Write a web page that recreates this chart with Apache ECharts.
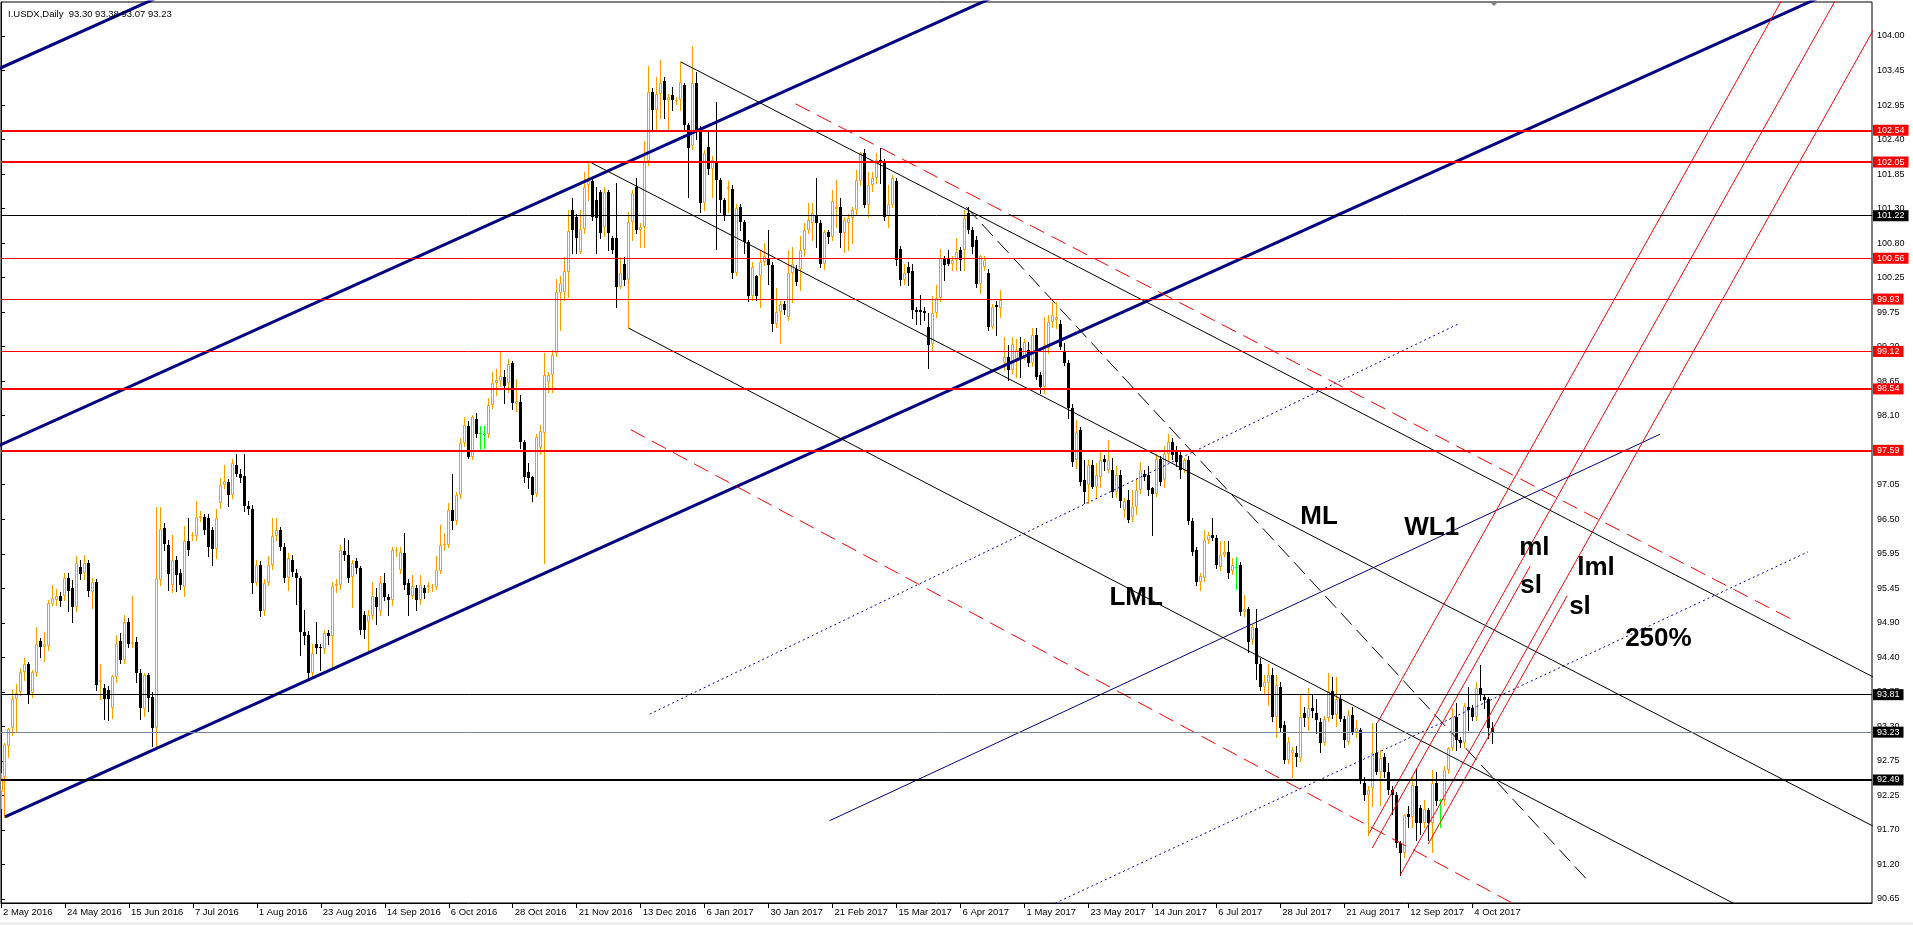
<!DOCTYPE html>
<html>
<head>
<meta charset="utf-8">
<script src="https://cdn.jsdelivr.net/npm/echarts@6/dist/echarts.min.js"></script>
<style>html,body{margin:0;padding:0;background:#fff;}#chart{width:1913px;height:925px;}</style>
</head>
<body>
<div id="chart"></div>
<script>
// ---------- DATA ----------
const symbolTitle = 'I.USDX,Daily';

const open = [
92.30,92.54,93.02,93.29,93.74,93.85,94.16,94.29,93.83,94.15,
94.64,94.55,94.56,95.21,95.27,95.33,95.33,95.61,95.46,95.17,
95.78,95.69,95.84,95.40,95.56,94.00,93.91,93.88,93.61,94.08,
94.64,94.35,94.94,94.60,94.62,94.14,93.59,94.12,93.78,93.29,
95.58,96.39,96.13,95.51,95.89,95.69,95.48,96.19,96.26,96.26,
96.54,96.56,96.54,96.36,96.07,96.77,97.05,97.10,96.90,97.36,
97.23,97.19,96.73,96.69,95.54,95.82,95.10,95.54,95.81,96.26,
96.36,96.10,95.61,95.90,95.70,95.61,94.78,94.73,94.15,94.60,
94.55,94.51,94.76,94.72,95.49,95.51,96.03,95.97,95.63,95.88,
95.77,95.04,94.94,95.03,95.32,95.11,95.53,95.32,95.28,96.04,
95.74,96.00,95.53,95.34,95.46,95.28,95.46,95.47,95.47,95.48,
95.73,96.12,96.13,96.67,96.50,96.90,97.71,97.97,97.49,98.07,
97.86,97.85,97.85,98.29,98.63,98.66,98.72,98.63,98.94,98.31,
98.34,97.72,97.25,97.18,96.92,97.62,97.86,98.65,98.76,99.10,
100.02,100.04,100.35,101.31,101.20,100.66,101.01,101.69,101.75,101.46,
101.58,101.05,101.58,100.87,100.87,100.12,100.48,100.22,101.13,101.67,
101.00,101.04,102.06,103.14,102.86,103.11,103.30,103.01,103.09,102.99,
103.01,103.24,102.62,102.30,103.27,102.55,101.41,102.29,101.95,102.03,
101.77,101.46,101.63,101.63,100.33,101.36,101.13,100.82,99.97,100.28,
100.28,100.51,100.56,100.46,99.55,99.73,99.86,99.66,100.33,100.40,
100.40,100.69,101.00,101.10,101.23,101.10,100.48,100.97,100.89,101.33,
101.36,100.95,101.10,101.18,101.31,101.75,102.19,101.39,101.69,101.80,
102.08,102.06,101.22,101.39,101.75,100.71,100.22,100.43,100.36,99.76,
99.76,99.74,99.50,99.24,99.71,99.94,100.56,100.56,100.48,100.53,
100.69,100.69,101.26,101.00,100.84,100.17,100.43,100.33,99.50,99.84,
99.79,98.94,99.04,98.83,99.00,99.17,99.04,99.14,98.94,99.37,
98.76,98.57,99.17,99.58,99.60,99.55,99.12,98.94,98.24,97.44,
97.90,97.13,97.05,97.36,97.03,97.18,97.46,97.29,97.28,96.95,
97.21,96.67,96.82,96.56,96.72,96.98,97.23,97.21,97.00,96.92,
97.46,97.13,97.54,97.72,97.59,97.52,97.29,97.44,96.49,96.05,
95.56,95.61,96.20,96.28,96.23,95.79,95.97,96.02,95.72,95.79,
95.82,95.09,95.14,94.66,94.84,94.29,93.93,93.99,94.11,93.47,
93.93,93.34,92.80,92.90,92.90,92.83,93.52,93.45,93.60,93.53,
93.39,93.06,93.45,93.86,93.50,93.75,93.44,93.08,93.49,93.24,
93.27,92.44,92.26,92.36,92.90,92.62,92.85,92.62,92.34,92.26,
91.52,91.36,91.96,91.92,92.40,92.05,91.82,92.02,91.82,92.44,
92.18,92.18,92.64,92.98,93.47,93.11,93.07,93.62,93.60,93.47,
93.92,93.78,93.74,93.30
];
const high = [
92.60,93.06,93.30,93.88,93.97,94.22,94.38,94.32,94.19,94.86,
94.69,94.78,95.28,95.51,95.45,95.40,95.69,95.69,95.58,95.95,
95.90,95.97,95.90,95.62,95.60,94.28,93.98,93.95,94.12,94.73,
94.76,95.04,95.00,95.33,94.70,94.20,94.15,94.15,93.85,96.71,
96.71,96.46,96.20,96.28,95.95,95.75,96.42,96.54,96.33,96.80,
96.65,96.60,96.60,96.40,96.69,97.16,97.36,97.15,97.45,97.54,
97.30,97.54,96.80,96.75,95.90,95.88,95.60,95.95,96.54,96.54,
96.40,96.15,96.00,95.97,95.75,95.65,95.12,94.80,94.60,94.94,
94.60,94.81,94.81,95.56,95.60,96.13,96.23,96.20,95.90,95.92,
95.80,95.10,95.12,95.56,95.46,95.64,95.69,95.36,96.10,96.10,
96.10,96.31,95.60,95.66,95.50,95.66,95.51,95.55,95.52,95.95,
96.43,96.31,96.77,97.23,96.95,97.78,98.11,98.05,98.14,98.16,
97.96,97.97,98.40,98.80,98.85,99.13,98.83,99.00,98.97,98.70,
98.45,97.75,97.40,97.20,97.85,97.98,99.10,98.80,99.14,100.24,
100.29,100.58,101.31,101.49,101.25,101.31,101.90,102.06,101.80,101.67,
101.62,101.67,101.62,100.90,101.72,100.58,100.58,101.28,101.62,101.80,
101.10,102.37,103.53,103.19,103.37,103.63,103.37,103.10,103.21,103.05,
103.60,103.28,102.66,103.84,103.45,102.60,102.24,102.52,102.15,102.98,
101.80,101.50,101.75,101.70,101.40,101.40,101.15,100.85,100.50,100.30,
100.69,100.79,101.00,100.50,100.10,99.90,99.90,100.69,100.74,100.45,
100.90,101.10,101.41,101.41,101.80,101.15,101.00,101.00,101.62,101.77,
101.50,101.20,101.25,101.35,101.93,102.21,102.25,101.90,101.90,102.19,
102.26,102.10,101.69,101.85,101.80,100.75,100.48,100.50,100.48,99.80,
99.99,99.80,99.71,99.97,100.15,100.71,100.60,100.69,100.60,100.87,
100.74,101.31,101.36,101.05,100.90,100.61,100.60,100.40,99.85,99.90,
100.07,99.34,99.22,99.35,99.32,99.35,99.32,99.27,99.48,99.48,
98.80,99.66,99.68,99.89,99.89,99.60,99.25,98.98,98.30,98.06,
97.95,97.44,97.44,97.44,97.39,97.59,97.52,97.75,97.47,97.34,
97.28,96.85,96.98,96.98,97.16,97.41,97.28,97.34,97.03,97.54,
97.50,97.65,97.85,97.78,97.65,97.59,97.47,97.50,96.55,96.10,
95.70,96.36,96.33,96.54,96.28,96.18,96.18,96.18,95.92,95.94,
95.87,95.35,95.16,94.91,95.14,94.37,94.11,94.29,94.22,94.11,
94.00,93.40,93.16,93.00,93.01,93.80,93.62,93.91,93.81,93.75,
93.45,93.48,94.14,94.09,94.09,93.80,93.48,93.57,93.62,93.42,
93.30,92.54,92.40,93.37,93.37,92.96,92.90,92.75,92.40,92.30,
91.55,91.97,92.08,92.54,92.67,92.10,92.18,92.05,92.64,92.62,
92.20,92.70,93.00,93.60,93.68,93.15,93.68,93.93,93.65,94.01,
94.27,93.80,93.78,93.38
];
const low = [
92.05,91.92,92.85,93.19,93.23,93.80,94.04,93.68,93.78,94.10,
94.39,94.33,94.50,95.20,95.20,95.18,95.28,95.10,94.94,95.10,
95.60,95.60,95.33,95.15,93.88,93.74,93.43,93.42,93.45,94.00,
94.30,94.30,94.55,94.55,94.00,93.44,93.48,93.55,93.01,93.01,
95.50,96.05,95.43,95.40,95.41,95.45,95.33,95.97,96.20,96.20,
96.50,96.30,95.95,95.82,95.92,96.70,97.00,96.73,96.85,97.20,
97.10,96.65,96.60,95.38,95.50,95.02,95.05,95.50,95.75,96.20,
96.05,95.55,95.43,95.65,95.22,94.42,94.60,94.05,94.09,94.45,
94.19,94.45,94.60,94.22,95.40,95.45,95.90,95.55,95.17,95.70,
94.75,94.68,94.45,94.98,94.91,95.05,95.28,95.04,95.20,95.95,
95.70,95.45,95.04,95.30,95.12,95.22,95.30,95.40,95.42,95.45,
95.70,96.05,96.10,96.38,96.45,96.85,97.65,97.47,97.45,97.80,
97.60,97.62,97.80,98.25,98.45,98.59,98.32,98.50,98.23,98.20,
97.63,97.10,97.00,96.80,96.88,97.53,95.84,98.50,98.49,99.05,
99.45,99.92,99.96,100.64,100.64,100.64,100.95,101.46,101.15,100.64,
100.87,100.90,100.69,100.65,99.81,100.10,100.15,99.48,100.84,100.95,
100.74,100.74,102.00,102.55,102.55,102.73,102.73,102.55,102.86,102.95,
102.86,102.55,101.51,102.25,102.40,101.28,101.31,101.87,101.51,100.71,
101.28,101.15,101.28,100.25,100.30,101.00,100.64,99.90,99.92,99.92,
99.81,100.45,100.17,99.43,99.50,99.25,99.70,99.61,99.89,100.15,
100.07,100.60,100.95,100.84,100.74,100.43,100.40,100.80,100.85,101.05,
100.74,100.66,100.69,100.79,101.25,101.70,101.35,101.20,101.60,101.72,
101.72,101.15,101.05,101.35,100.45,100.15,100.17,100.15,99.63,99.55,
99.55,99.60,98.86,99.12,99.65,99.90,100.22,100.45,100.38,100.38,
100.38,100.38,100.95,100.64,100.12,100.02,100.38,99.45,99.48,99.38,
99.66,98.83,98.68,98.78,98.73,98.72,99.00,98.90,98.90,98.70,
98.47,98.47,99.09,99.50,99.48,99.15,98.91,98.09,97.35,97.31,
97.05,96.77,96.77,97.00,96.85,97.03,97.29,97.26,96.87,96.87,
96.72,96.56,96.48,96.49,96.61,96.93,97.13,96.90,96.28,96.88,
97.05,97.03,97.44,97.45,97.35,97.16,97.25,96.45,95.97,95.50,
95.43,95.57,96.15,96.20,95.77,95.74,95.95,95.61,95.68,95.45,
95.05,95.02,94.47,94.60,94.06,93.88,93.83,93.65,93.40,93.16,
93.25,92.75,92.75,92.54,92.70,92.78,93.32,93.26,93.47,93.21,
92.93,93.03,93.40,93.45,93.32,93.40,93.00,93.05,93.20,93.16,
92.45,92.18,91.64,92.08,92.58,92.10,92.54,92.28,91.97,91.45,
91.02,91.30,91.77,91.77,91.56,91.66,91.77,91.56,91.38,92.10,
91.77,92.10,92.60,92.95,92.95,93.00,93.00,93.26,93.42,93.42,
93.73,93.60,93.14,93.07
];
const close = [
92.52,93.05,93.28,93.74,93.83,94.16,94.29,93.80,94.16,94.60,
94.55,94.60,95.23,95.30,95.34,95.26,95.61,95.42,95.16,95.84,
95.68,95.84,95.42,95.56,93.96,94.04,93.74,93.75,94.10,94.59,
94.35,94.93,94.60,94.62,94.14,93.60,94.12,93.76,93.30,95.61,
96.37,96.14,95.68,95.89,95.66,95.50,96.18,96.05,96.28,96.56,
96.58,96.36,96.10,96.07,96.54,97.05,97.12,96.90,97.39,97.23,
97.16,96.73,96.69,95.54,95.82,95.10,95.54,95.81,96.26,96.36,
96.10,95.61,95.92,95.71,95.61,94.78,94.71,94.14,94.45,94.53,
94.53,94.76,94.71,95.49,95.52,96.05,95.97,95.62,95.84,95.77,
94.81,94.81,95.04,95.34,95.17,95.53,95.32,95.27,96.05,96.05,
96.01,95.50,95.35,95.49,95.28,95.51,95.39,95.50,95.48,95.74,
96.13,96.14,96.67,96.50,96.90,97.71,97.98,97.49,98.11,97.85,
97.86,97.85,98.29,98.63,98.68,98.74,98.59,98.92,98.32,98.35,
97.72,97.17,97.16,96.90,97.80,97.89,98.76,98.76,99.07,100.04,
100.18,100.37,100.98,101.00,100.87,101.01,101.67,101.75,101.20,101.18,
100.95,101.59,100.95,100.69,100.12,100.33,100.22,101.13,101.57,101.00,
101.05,102.06,103.14,102.86,103.11,103.27,103.01,103.06,103.01,103.01,
103.29,102.62,102.26,103.27,102.55,101.41,102.19,101.95,102.08,101.77,
101.46,101.23,101.66,100.33,101.34,101.13,100.82,99.97,100.43,99.97,
100.51,100.59,100.46,99.55,99.73,99.86,99.76,100.33,100.48,100.20,
100.69,101.00,101.15,101.26,101.10,100.48,100.97,100.89,101.44,101.36,
100.95,101.15,101.18,101.31,101.77,102.19,101.39,101.69,101.80,102.08,
102.03,101.20,101.40,101.80,100.53,100.22,100.33,100.33,99.76,99.73,
99.73,99.71,99.22,99.71,99.94,100.56,100.46,100.48,100.53,100.66,
100.53,101.18,101.00,100.74,100.17,100.59,100.53,99.50,99.81,99.81,
99.92,99.04,98.83,99.24,99.14,99.04,99.27,98.94,99.37,98.73,
98.57,99.17,99.58,99.68,99.66,99.19,98.94,98.24,97.41,97.88,
97.10,96.95,97.36,97.03,97.21,97.44,97.41,97.44,96.95,97.21,
96.80,96.80,96.51,96.72,96.98,97.28,97.18,96.98,96.92,97.46,
97.10,97.54,97.72,97.52,97.41,97.29,97.44,96.49,96.02,95.56,
95.64,96.20,96.28,96.23,95.82,95.97,96.02,95.69,95.82,95.79,
95.09,95.14,94.63,94.86,94.29,93.93,94.00,94.12,93.47,93.96,
93.29,92.80,93.08,92.96,92.85,93.47,93.45,93.60,93.55,93.42,
93.06,93.43,93.86,93.49,93.75,93.44,93.11,93.50,93.24,93.29,
92.49,92.26,92.34,92.91,92.62,92.83,92.62,92.34,92.26,91.51,
91.36,91.95,91.92,92.41,91.82,91.82,92.04,91.82,92.44,92.16,
92.18,92.65,92.98,93.47,93.11,93.07,93.64,93.58,93.47,93.92,
93.80,93.73,93.29,93.23
];

// date axis: bar index of each label, and its text
const xTickIdx = [0,16,32,48,64,80,96,112,128,144,160,176,192,208,224,240,256,272,288,304,320,336,352,368];
const xTickLabels = ['2 May 2016','24 May 2016','15 Jun 2016','7 Jul 2016','1 Aug 2016','23 Aug 2016','14 Sep 2016','6 Oct 2016','28 Oct 2016','21 Nov 2016','13 Dec 2016','6 Jan 2017','30 Jan 2017','21 Feb 2017','15 Mar 2017','6 Apr 2017','1 May 2017','23 May 2017','14 Jun 2017','6 Jul 2017','28 Jul 2017','21 Aug 2017','12 Sep 2017','4 Oct 2017'];

// price axis ticks
const yTickValues = [104.00,103.466,102.932,102.398,101.864,101.33,100.796,100.262,99.728,99.194,98.66,98.126,97.592,97.058,96.524,95.99,95.456,94.922,94.388,93.854,93.32,92.786,92.252,91.718,91.184,90.65];
const yTickLabels = ['104.00','103.45','102.95','102.40','101.85','101.30','100.80','100.25','99.75','99.20','98.65','98.10','97.55','97.05','96.50','95.95','95.45','94.90','94.40','93.85','93.30','92.75','92.25','91.70','91.20','90.65'];

// horizontal price levels
const levelValues = [102.54,102.05,101.22,100.56,99.93,99.12,98.54,97.59,93.81,93.23,92.49];
const levelKinds  = ['redThick','redThick','black','redThin','redThin','redThin','redThick','redThick','black','bid','blackThick'];

// trend lines: [barIndex, price] end points
const trendLines = [
  {kind:'navyThick', pts:[[-1,97.65],[260,104.93]]},
  {kind:'navyThick', pts:[[-1,103.48],[40,104.62]]},
  {kind:'navyThick', pts:[[1,91.92],[460,104.74]]},
  {kind:'navyThin',  pts:[[207.25,91.86],[415,97.84]]},
  {kind:'navyDot',   pts:[[258,90.42],[452,96.02]]},
  {kind:'navyDot',   pts:[[162.25,93.51],[365,99.56]]},
  {kind:'blackThin', pts:[[170,103.60],[480,93.71]]},
  {kind:'blackThin', pts:[[147,102.06],[480,91.40]]},
  {kind:'blackThin', pts:[[157,99.48],[480,89.08]]},
  {kind:'blackDash', pts:[[241.5,101.35],[397,90.93]]},
  {kind:'redDash',   pts:[[198.75,102.95],[447.75,94.98]]},
  {kind:'redDash',   pts:[[157.5,97.91],[380,90.52]]},
  {kind:'redThin',   pts:[[344.25,93.37],[450,105.06]]},
  {kind:'redThin',   pts:[[342.25,91.67],[462,104.90]]},
  {kind:'redThin',   pts:[[350,91.02],[475,104.83]]},
  {kind:'redThin',   pts:[[343,91.44],[382.5,95.80]]},
  {kind:'redThin',   pts:[[357,91.50],[391.75,95.34]]}
];

// text annotations: [barIndex, price] of the left/middle of the text
const textLabels  = ['ML','LML','WL1','ml','sl','lml','sl','250%'];
const textAnchors = [[325,96.56],[277.25,95.31],[351,96.39],[379.75,96.08],[380,95.49],[394.25,95.77],[392.25,95.17],[406.25,94.67]];

// ---------- STYLES ----------
const FONT = '"Liberation Sans", Arial, sans-serif';
const BULL = '#FF9900', BEAR = '#000000', DOJI = '#00FF00';
const levelStyle = {
  redThick:   {color:'#FF0000', width:2, bg:'#FF0000'},
  redThin:    {color:'#FF0000', width:1, bg:'#FF0000'},
  black:      {color:'#000000', width:1, bg:'#000000'},
  blackThick: {color:'#000000', width:2, bg:'#000000'},
  bid:        {color:'#778899', width:1, bg:'#000000'}
};
const lineStyleOf = {
  navyThick: {color:'#000080', width:3, type:'solid'},
  navyThin:  {color:'#000080', width:1, type:'solid'},
  navyDot:   {color:'#0000C0', width:1, type:[2,3]},
  blackThin: {color:'#000000', width:1, type:'solid'},
  blackDash: {color:'#000000', width:1, type:[16,7]},
  redDash:   {color:'#FF0000', width:1, type:[16,8]},
  redThin:   {color:'#FF0000', width:1, type:'solid'}
};

const candleData = open.map((o, i) => [i, o, high[i], low[i], close[i]]);
const last = open.length - 1;
const titleText = symbolTitle + '  ' + open[last].toFixed(2) + ' ' + high[last].toFixed(2) + ' ' + low[last].toFixed(2) + ' ' + close[last].toFixed(2);

function renderCandle(params, api) {
  const i = api.value(0), o = api.value(1), h = api.value(2), l = api.value(3), c = api.value(4);
  const top = Math.max(o, c), bot = Math.min(o, c);
  const x = Math.floor(api.coord([i, o])[0]) + 0.5;
  const yH = Math.round(api.coord([i, Math.max(h, top)])[1]);
  const yL = Math.round(api.coord([i, Math.min(l, bot)])[1]);
  const yT = Math.round(api.coord([i, top])[1]);
  const yB = Math.round(api.coord([i, bot])[1]);
  const color = (o === c) ? DOJI : (c > o ? BULL : BEAR);
  const children = [{type:'line', shape:{x1:x, y1:yH, x2:x, y2:yL + 1}, style:{stroke:color, lineWidth:1}}];
  if (o === c) {
    children.push({type:'line', shape:{x1:x - 1.5, y1:yT + 0.5, x2:x + 1.5, y2:yT + 0.5}, style:{stroke:color, lineWidth:1}});
  } else if (c > o) {
    children.push({type:'rect', shape:{x:x - 1, y:yT + 0.5, width:2, height:Math.max(yB - yT - 1, 0)}, style:{fill:'#ffffff', stroke:color, lineWidth:1}});
  } else {
    children.push({type:'rect', shape:{x:x - 1.5, y:yT, width:3, height:Math.max(yB - yT, 1)}, style:{fill:color}});
  }
  return {type:'group', children};
}

function renderText(params, api) {
  const p = api.coord([api.value(0), api.value(1)]);
  return {type:'text', x:p[0], y:p[1], style:{text:textLabels[api.value(2)], fill:'#000', font:'bold 26px ' + FONT, align:'left', verticalAlign:'middle'}};
}

const series = [];
series.push({
  type:'custom', name:'candles', coordinateSystem:'cartesian2d', renderItem:renderCandle,
  data:candleData, dimensions:['i','o','h','l','c'], encode:{x:0, y:[1,2,3,4]},
  clip:true, silent:true, animation:false, z:2
});
series.push({
  type:'line', name:'levels', data:[[0, levelValues[0]]], showSymbol:false, lineStyle:{opacity:0}, silent:true, animation:false, z:3,
  markLine:{
    symbol:['none','none'], silent:true, animation:false, precision:2,
    data:levelValues.map((v, k) => {
      const s = levelStyle[levelKinds[k]];
      return {
        yAxis:v,
        lineStyle:{color:s.color, width:s.width, type:'solid'},
        label:{show:true, position:'end', distance:1, formatter:v.toFixed(2), color:'#fff', backgroundColor:s.bg,
               padding:[1,4,0,4], fontSize:9, lineHeight:10, fontFamily:FONT}
      };
    })
  }
});
trendLines.forEach((t, k) => {
  const s = lineStyleOf[t.kind];
  series.push({type:'line', name:'tl' + k, data:t.pts, showSymbol:false, symbol:'none', clip:true, silent:true, animation:false, z:4,
               lineStyle:{color:s.color, width:s.width, type:s.type}});
});
series.push({
  type:'custom', name:'texts', coordinateSystem:'cartesian2d', renderItem:renderText,
  data:textAnchors.map((p, k) => [p[0], p[1], k]), clip:false, silent:true, animation:false, z:10
});

const chart = echarts.init(document.getElementById('chart'), null, {renderer:'canvas'});
chart.setOption({
  animation:false,
  backgroundColor:'#ffffff',
  title:{text:titleText, left:3, top:4, textStyle:{fontSize:9.5, fontWeight:'normal', color:'#000', fontFamily:FONT}},
  grid:{left:-2, right:41, top:2, bottom:22, show:true, borderColor:'#000', borderWidth:1, backgroundColor:'transparent'},
  xAxis:{
    type:'value', min:0, max:468, position:'bottom',
    axisLine:{show:true, lineStyle:{color:'#000', width:1}},
    axisTick:{show:true, length:5, customValues:xTickIdx, lineStyle:{color:'#000'}},
    axisLabel:{show:true, customValues:xTickIdx, margin:4, align:'left', padding:[0,0,0,2], color:'#000', fontSize:9.5, fontFamily:FONT,
      formatter:(v) => { const k = xTickIdx.indexOf(Math.round(v)); return k >= 0 ? xTickLabels[k] : ''; }},
    splitLine:{show:false}
  },
  yAxis:{
    type:'value', min:90.587, max:104.526, position:'right', scale:true,
    axisLine:{show:true, lineStyle:{color:'#000', width:1}},
    axisTick:{show:true, length:4, customValues:yTickValues, lineStyle:{color:'#000'}},
    axisLabel:{show:true, customValues:yTickValues, margin:5, color:'#000', fontSize:9, fontFamily:FONT,
      formatter:(v) => { let best = 0; yTickValues.forEach((t, k) => { if (Math.abs(t - v) < Math.abs(yTickValues[best] - v)) best = k; }); return yTickLabels[best]; }},
    splitLine:{show:false}
  },
  graphic:[
    {type:'polygon', shape:{points:[[1490,2],[1498,2],[1494,6]]}, style:{fill:'#808080'}, z:100},
    {type:'rect', shape:{x:0, y:922, width:1913, height:3}, style:{fill:'#F0F0F0'}, z:100}
  ],
  series
});
</script>
</body>
</html>
